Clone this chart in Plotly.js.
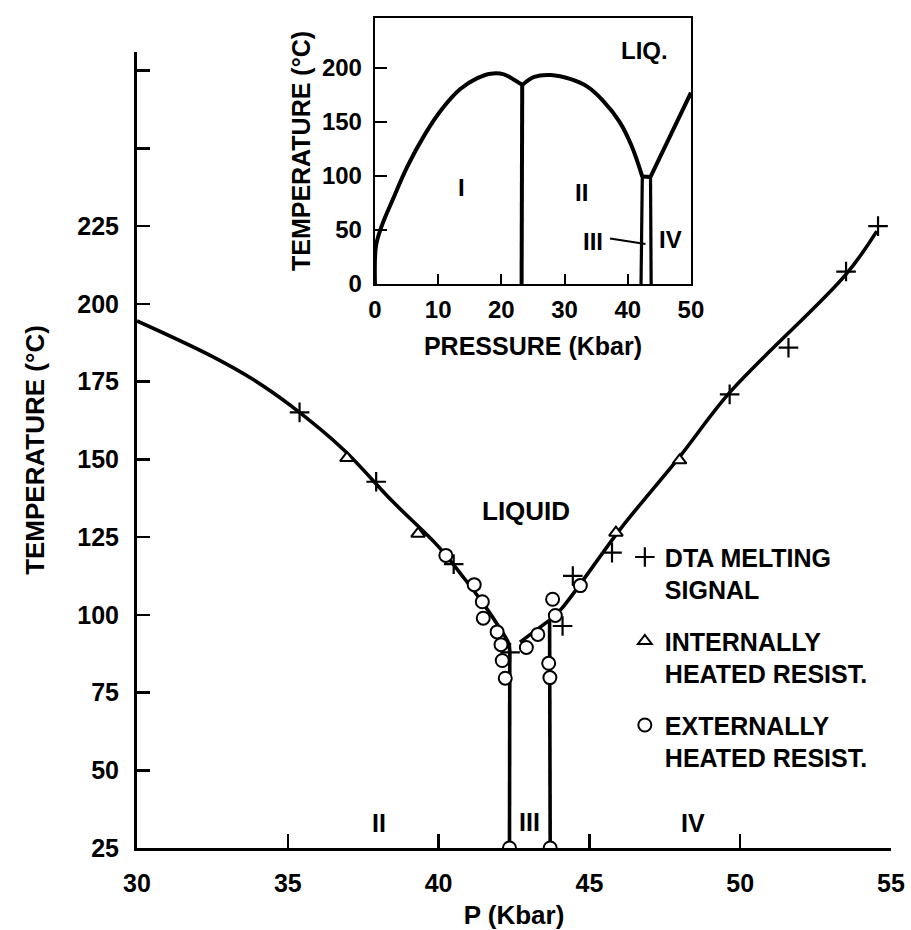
<!DOCTYPE html>
<html>
<head>
<meta charset="utf-8">
<script src="https://cdn.plot.ly/plotly-3.0.1.min.js"></script>
<style>
  html, body { margin: 0; padding: 0; background: #fff; }
  #chart { width: 911px; height: 930px; }
</style>
</head>
<body>
<div id="chart"></div>
<script>
// ---------- Main chart data (P in Kbar, T in °C) ----------
const dtaP = [35.39, 37.93, 40.5, 42.37, 44.11, 44.45, 45.75, 49.65, 51.6, 53.51, 54.57];
const dtaT = [165.1, 142.8, 116.3, 87.9, 96.4, 112.5, 120.0, 170.9, 185.9, 210.4, 225.0];

const intP = [36.96, 39.32, 45.88, 47.99];
const intT = [150.4, 126.1, 126.4, 149.7];

const extP = [40.24, 41.18, 41.45, 41.48, 41.94, 42.07, 42.11, 42.21, 42.35, 42.91, 43.29, 43.78, 43.87, 43.65, 43.69, 43.70, 44.70];
const extT = [119.1, 109.7, 104.2, 98.9, 94.5, 90.4, 85.3, 79.6, 25.0, 89.5, 93.7, 105.0, 99.8, 84.4, 79.8, 25.0, 109.4];

// phase boundaries (main)
const liqIIP = [30, 32.41, 33.88, 35.12, 36.85, 38.47, 39.98, 40.86, 41.54, 42.06, 42.32, 42.36];
const liqIIT = [194.5, 183.5, 175.5, 167.1, 153.1, 136.5, 122.1, 111.6, 102.8, 95.2, 90.8, 86.0];
const bIIIIIP = [42.36, 42.35];
const bIIIIIT = [86.0, 25.0];
const liqIIIP = [42.70, 43.68];
const liqIIIT = [91.2, 98.3];
const bIIIIVP = [43.68, 43.70];
const bIIIIVT = [98.3, 25.0];
const liqIVP = [43.68, 44.07, 46.05, 47.99, 49.66, 53.5, 54.53];
const liqIVT = [98.3, 101.9, 127.9, 150.8, 171.6, 209.4, 223.4];

const mainXTicks = [30, 35, 40, 45, 50, 55];
const mainXLabels = ['30', '35', '40', '45', '50', '55'];
const mainYTicks = [25, 50, 75, 100, 125, 150, 175, 200, 225, 250, 275];
const mainYLabels = ['25', '50', '75', '100', '125', '150', '175', '200', '225', '', ''];

// ---------- Inset data ----------
const inIP = [0, 0.16, 1.06, 2.8, 5.1, 7.9, 10.7, 13.5, 16.2, 18.3, 20.4, 22.0, 23.3];
const inIT = [0, 35.2, 53.6, 77.9, 108.3, 138.4, 162.5, 180.3, 190.4, 194.5, 193.9, 188.9, 184.1];
const inIIIP = [23.3, 23.2];
const inIIIT = [184.1, 0];
const inIIP = [23.3, 25.2, 27.8, 31.0, 33.6, 36.1, 38.7, 40.6, 42.3];
const inIIT = [184.1, 191.6, 193.3, 189.4, 182.5, 169.4, 150.0, 127.9, 99.4];
const inIIILP = [42.3, 43.6];
const inIIILT = [99.4, 99.0];
const inIIIIIP = [42.3, 42.1];
const inIIIIIT = [99.4, 0];
const inIIIIVP = [43.6, 43.7];
const inIIIIVT = [99.0, 0];
const inIVP = [43.6, 50];
const inIVT = [99.0, 177.0];
const inLeaderP = [37.2, 42.8];
const inLeaderT = [42.0, 37.0];

const inXTicks = [0, 10, 20, 30, 40, 50];
const inXLabels = ['0', '10', '20', '30', '40', '50'];
const inYTicks = [0, 50, 100, 150, 200];
const inYLabels = ['0', '50', '100', '150', '200'];

// ---------- build ----------
const FONT = 'Liberation Sans, Arial, Helvetica, sans-serif';
const LW = 3.6;

function f(size) { return { family: FONT, size: size, color: 'black', weight: 'bold' }; }

function line(x, y, ax, shape, w) {
  return {
    x: x, y: y, xaxis: ax === 2 ? 'x2' : 'x', yaxis: ax === 2 ? 'y2' : 'y',
    type: 'scatter', mode: 'lines', showlegend: false, hoverinfo: 'skip',
    line: { color: 'black', width: w || LW, shape: shape || 'linear', smoothing: 1 }
  };
}

const traces = [
  line(liqIIP, liqIIT, 1, 'spline'),
  line(bIIIIIP, bIIIIIT, 1),
  line(liqIIIP, liqIIIT, 1),
  line(bIIIIVP, bIIIIVT, 1),
  line(liqIVP, liqIVT, 1, 'spline'),
  line(inIP, inIT, 2, 'spline', 4),
  line(inIIIP, inIIIT, 2, 'linear', 4),
  line(inIIP, inIIT, 2, 'spline', 4),
  line(inIIILP, inIIILT, 2, 'linear', 4),
  line(inIIIIIP, inIIIIIT, 2, 'linear', 3.2),
  line(inIIIIVP, inIIIIVT, 2, 'linear', 3.2),
  line(inIVP, inIVT, 2, 'linear', 4),
  line(inLeaderP, inLeaderT, 2, 'linear', 2),
  {
    x: dtaP, y: dtaT, type: 'scatter', mode: 'markers', xaxis: 'x', yaxis: 'y',
    name: 'DTA MELTING<br>SIGNAL', legendgroup: 'g1',
    marker: { symbol: 'cross-thin', size: 14, color: 'black', line: { color: 'black', width: 2.2 } }
  },
  {
    x: intP, y: intT, type: 'scatter', mode: 'markers', xaxis: 'x', yaxis: 'y',
    name: 'INTERNALLY<br>HEATED RESIST.', legendgroup: 'g2',
    marker: { symbol: 'triangle-up', size: 12, color: 'white', line: { color: 'black', width: 2 } }
  },
  {
    x: extP, y: extT, type: 'scatter', mode: 'markers', xaxis: 'x', yaxis: 'y',
    name: 'EXTERNALLY<br>HEATED RESIST.', legendgroup: 'g3',
    marker: { symbol: 'circle', size: 13, color: 'white', line: { color: 'black', width: 2 } }
  }
];

function txt(text, x, y, ax, size) {
  return {
    text: text, x: x, y: y, xref: ax === 2 ? 'x2' : 'x', yref: ax === 2 ? 'y2' : 'y',
    showarrow: false, font: f(size || 24)
  };
}

const layout = {
  width: 911, height: 930,
  margin: { l: 137, r: 20, t: 18, b: 82 },
  paper_bgcolor: 'white', plot_bgcolor: 'rgba(0,0,0,0)',
  font: f(24),
  showlegend: true,
  legend: {
    x: 0.647, y: 0.378, xanchor: 'left', yanchor: 'top', valign: 'top',
    font: f(25),
    bgcolor: 'rgba(0,0,0,0)', tracegroupgap: 16, itemwidth: 30
  },
  xaxis: {
    domain: [0, 1], anchor: 'y', range: [30, 55],
    showline: true, linewidth: 3, linecolor: 'black', mirror: false,
    ticks: 'inside', ticklen: 14, tickwidth: 2.5, tickcolor: 'black',
    tickvals: mainXTicks, ticktext: mainXLabels, ticklabelstandoff: 11,
    tickfont: f(25),
    showgrid: false, zeroline: false,
    title: { text: 'P (Kbar)', font: f(26), standoff: 14 }
  },
  yaxis: {
    domain: [0, 0.959], anchor: 'x', range: [25, 281],
    showline: true, linewidth: 3, linecolor: 'black',
    ticks: 'inside', ticklen: 13, tickwidth: 2.5, tickcolor: 'black',
    tickvals: mainYTicks, ticktext: mainYLabels, ticklabelstandoff: 10,
    tickfont: f(25),
    showgrid: false, zeroline: false,
    title: { text: 'TEMPERATURE (°C)', font: f(26), standoff: 26 }
  },
  xaxis2: {
    domain: [0.3156, 0.7347], anchor: 'y2', range: [0, 50],
    showline: true, mirror: true, linewidth: 2.2, linecolor: 'black',
    ticks: 'inside', ticklen: 10, tickwidth: 2, tickcolor: 'black',
    tickvals: inXTicks, ticktext: inXLabels, ticklabelstandoff: 3,
    tickfont: f(24),
    showgrid: false, zeroline: false,
    title: { text: 'PRESSURE (Kbar)', font: f(25), standoff: 16 }
  },
  yaxis2: {
    domain: [0.6795, 1], anchor: 'x2', range: [0, 246],
    showline: true, mirror: true, linewidth: 2.2, linecolor: 'black',
    ticks: 'inside', ticklen: 12, tickwidth: 2, tickcolor: 'black',
    tickvals: inYTicks, ticktext: inYLabels, ticklabelstandoff: 6,
    tickfont: f(24),
    showgrid: false, zeroline: false,
    title: { text: 'TEMPERATURE (°C)', font: f(25), standoff: 4 }
  },
  annotations: [
    txt('LIQUID', 42.9, 133.5, 1, 26),
    txt('II', 38.02, 33.0, 1, 25),
    txt('III', 43.0, 33.3, 1, 25),
    txt('IV', 48.45, 33.1, 1, 25),
    txt('LIQ.', 42.7, 216, 2, 24),
    txt('I', 13.7, 89, 2, 24),
    txt('II', 32.7, 85, 2, 24),
    txt('III', 34.5, 39.6, 2, 24),
    txt('IV', 46.7, 41, 2, 24)
  ]
};

Plotly.newPlot('chart', traces, layout, { displayModeBar: false, staticPlot: true });
</script>
</body>
</html>
